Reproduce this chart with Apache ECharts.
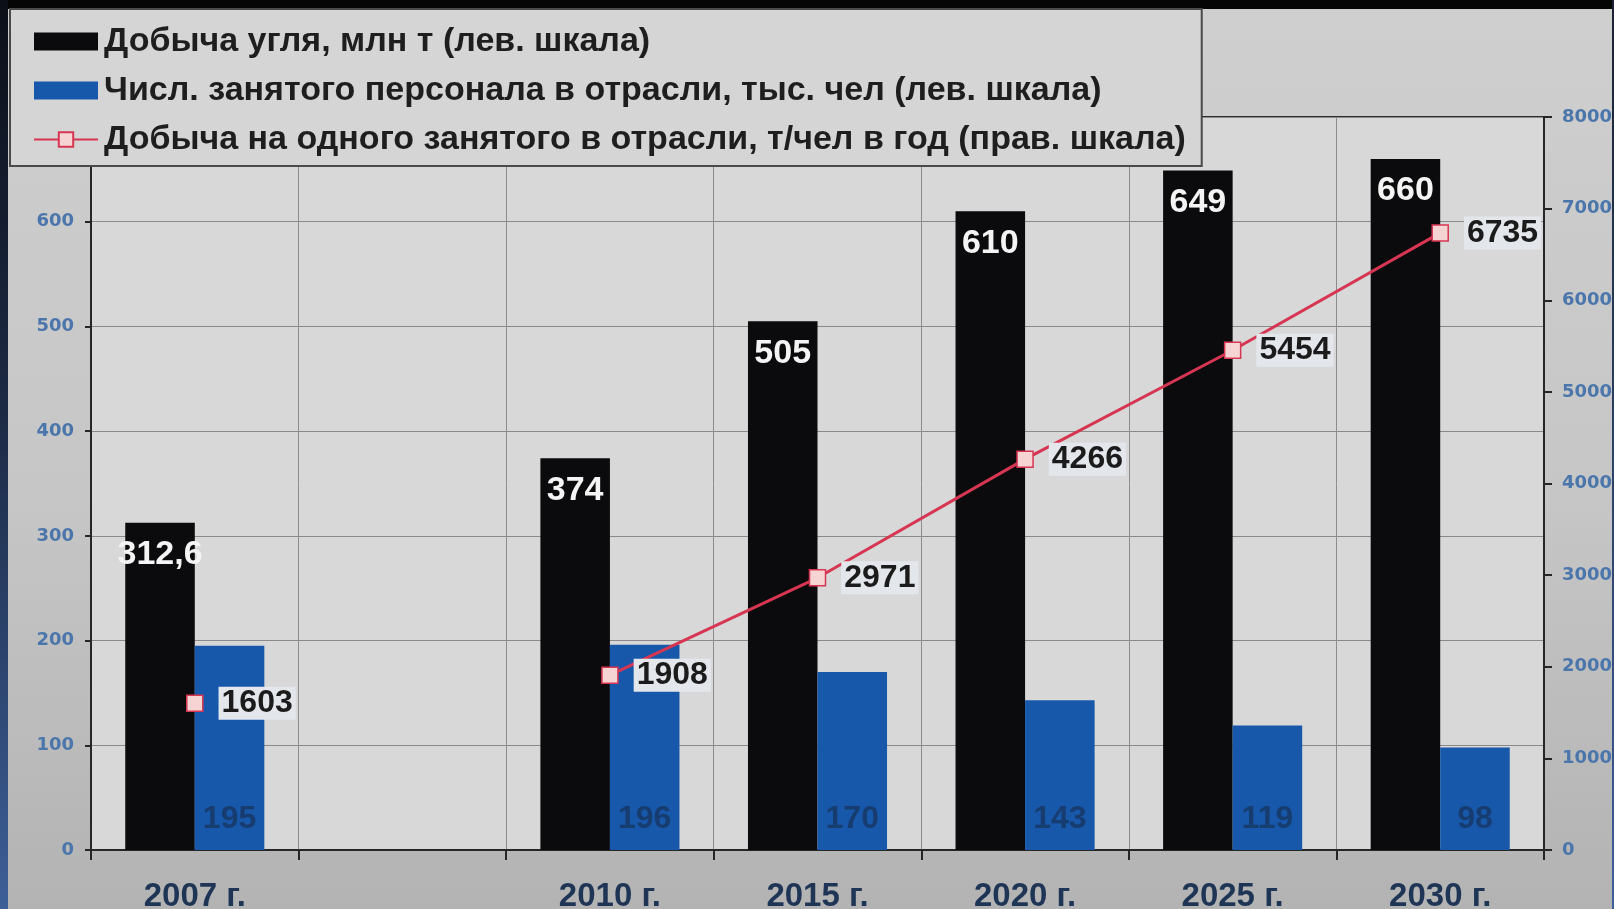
<!DOCTYPE html>
<html lang="ru">
<head>
<meta charset="utf-8">
<title>Добыча угля и занятость в отрасли</title>
<script src="https://cdn.jsdelivr.net/npm/echarts@6/dist/echarts.min.js"></script>
<style>
  html, body { margin: 0; padding: 0; }
  body {
    width: 1614px; height: 909px; overflow: hidden; position: relative;
    background: linear-gradient(to bottom, #cfcfcf 0%, #c6c6c6 55%, #b3b3b3 100%);
  }
  #topband { position: absolute; left: 0; top: 0; width: 1614px; height: 9px; background: #050505; }
  #leftband { position: absolute; left: 0; top: 0; width: 8px; height: 909px;
    background: linear-gradient(to bottom, #0c0f18 0%, #1c2a44 45%, #3d5f98 100%); }
  #rightband { position: absolute; right: 0; top: 0; width: 2px; height: 909px;
    background: linear-gradient(to bottom, #1a2233 0%, #3d5f98 100%); }
  #chart { position: absolute; left: 0; top: 0; width: 1614px; height: 909px; }
</style>
</head>
<body>
<div id="topband"></div>
<div id="leftband"></div>
<div id="rightband"></div>
<div id="chart"></div>
<script>
// Годы (пустая позиция — разрыв между 2007 и 2010 гг.)
const categories = ['2007 г.', '', '2010 г.', '2015 г.', '2020 г.', '2025 г.', '2030 г.'];
// Добыча угля, млн т
const coalOutput = [312.6, null, 374, 505, 610, 649, 660];
// Численность занятого персонала, тыс. чел
const staffCount = [195, null, 196, 170, 143, 119, 98];
// Добыча на одного занятого, т/чел в год
const outputPerWorker = [1603, null, 1908, 2971, 4266, 5454, 6735];

const seriesNames = [
  'Добыча угля, млн т (лев. шкала)',
  'Числ. занятого персонала в отрасли, тыс. чел (лев. шкала)',
  'Добыча на одного занятого в отрасли, т/чел в год (прав. шкала)'
];

const FONT = '"Liberation Sans", Arial, sans-serif';
const TICK_FONT = '"DejaVu Sans", Verdana, sans-serif';
const LINE_RED = '#d73652';

const chart = echarts.init(document.getElementById('chart'), null, { renderer: 'canvas' });

chart.setOption({
  backgroundColor: 'transparent',
  animation: false,
  textStyle: { fontFamily: FONT },
  legend: {
    orient: 'vertical',
    left: 10,
    top: 9,
    padding: [14, 16, 8, 23],
    itemGap: 12,
    itemWidth: 64,
    itemHeight: 18,
    backgroundColor: '#d5d5d5',
    borderColor: '#4a4a4a',
    borderWidth: 2,
    textStyle: { fontSize: 34, fontWeight: 'bold', color: '#1e1e1e', lineHeight: 37, padding: [0, 0, 0, 1] },
    data: [
      { name: seriesNames[0], icon: 'rect' },
      { name: seriesNames[1], icon: 'rect' },
      { name: seriesNames[2] }
    ]
  },
  grid: {
    left: 91,
    right: 70,
    top: 117,
    bottom: 59,
    outerBoundsMode: 'none',
    containLabel: false,
    show: true,
    backgroundColor: '#d8d8d9',
    borderColor: '#2e2e2e',
    borderWidth: 2
  },
  xAxis: {
    type: 'category',
    data: categories,
    boundaryGap: true,
    axisLine: { lineStyle: { color: '#262626', width: 2 } },
    axisTick: { show: true, interval: 0, length: 10, lineStyle: { color: '#262626', width: 2 } },
    splitLine: { show: true, interval: 0, lineStyle: { color: '#8d8d8d', width: 1 } },
    axisLabel: {
      interval: 0, margin: 30, fontSize: 33, fontWeight: 'bold', color: '#1f3556', fontFamily: FONT
    }
  },
  yAxis: [
    {
      type: 'value',
      min: 0, max: 700, interval: 100,
      position: 'left',
      axisLine: { show: true, lineStyle: { color: '#262626', width: 2 } },
      axisTick: { show: true, length: 6, lineStyle: { color: '#262626', width: 2 } },
      splitLine: { show: true, lineStyle: { color: '#8a8a8a', width: 1.2 } },
      axisLabel: { margin: 17, fontSize: 18, fontWeight: 'bold', color: '#4b76ab', fontFamily: TICK_FONT }
    },
    {
      type: 'value',
      min: 0, max: 8000, interval: 1000,
      position: 'right',
      axisLine: { show: true, lineStyle: { color: '#262626', width: 2 } },
      axisTick: { show: true, length: 8, lineStyle: { color: '#262626', width: 2 } },
      splitLine: { show: false },
      axisLabel: {
        margin: 18, fontSize: 18, fontWeight: 'bold', color: '#4b76ab', fontFamily: TICK_FONT,
        formatter: v => String(v)
      }
    }
  ],
  series: [
    {
      name: seriesNames[0],
      type: 'bar',
      yAxisIndex: 0,
      data: coalOutput,
      barGap: '0%',
      barCategoryGap: '33%',
      itemStyle: { color: '#0b0b0d' },
      label: {
        show: true,
        position: 'insideTop',
        distance: 15,
        fontSize: 34,
        fontWeight: 'bold',
        color: '#f4f4f4',
        fontFamily: FONT,
        formatter: p => String(p.value).replace('.', ',')
      }
    },
    {
      name: seriesNames[1],
      type: 'bar',
      yAxisIndex: 0,
      data: staffCount,
      itemStyle: { color: '#1858aa' },
      label: {
        show: true,
        position: 'insideBottom',
        distance: 15,
        fontSize: 32,
        fontWeight: 'bold',
        color: '#173c70',
        fontFamily: FONT
      }
    },
    {
      name: seriesNames[2],
      type: 'line',
      yAxisIndex: 1,
      data: outputPerWorker,
      connectNulls: false,
      z: 5,
      symbol: 'rect',
      symbolSize: 16,
      lineStyle: { color: LINE_RED, width: 3 },
      itemStyle: { color: '#f6d4d4', borderColor: LINE_RED, borderWidth: 1.5 },
      label: {
        show: true,
        position: 'right',
        distance: 15,
        fontSize: 32,
        fontWeight: 'bold',
        color: '#1b1b1b',
        backgroundColor: '#e3e7ec',
        padding: [1, 3, 0, 3],
        fontFamily: FONT
      }
    }
  ]
});
</script>
</body>
</html>
